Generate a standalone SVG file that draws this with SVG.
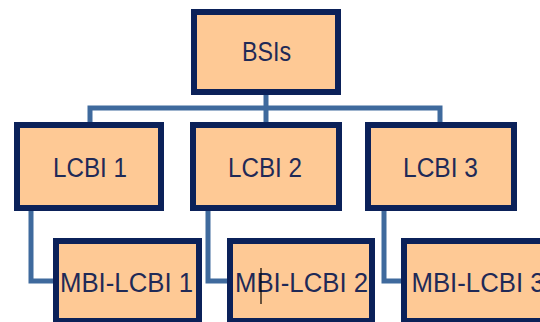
<svg xmlns="http://www.w3.org/2000/svg" width="540" height="322" viewBox="0 0 540 322">
<style>
.box{fill:#fec995;stroke:#0b2159;stroke-width:6;stroke-linejoin:miter}
.lbl{font-family:"Liberation Sans",Arial,sans-serif;font-size:27px;fill:#1f2a57}
.conn{fill:none;stroke:#3f6a9d;stroke-width:5;stroke-linejoin:miter;stroke-linecap:butt}
</style>
<rect width="540" height="322" fill="#ffffff"/>
<g id="connectors">
<path class="conn" d="M266 95 V122"/>
<path class="conn" d="M90 122 V108 H440 V122"/>
<path class="conn" d="M31 211 V281 H54"/>
<path class="conn" d="M208 211 V281 H228"/>
<path class="conn" d="M384 211 V281 H402"/>
</g>
<g id="bsis">
<rect class="box" x="194" y="12" width="144" height="80"/>
<text class="lbl" x="242" y="61" textLength="49" lengthAdjust="spacingAndGlyphs">BSIs</text>
</g>
<g id="lcbi1">
<rect class="box" x="17" y="125" width="144" height="83"/>
<text class="lbl" x="53" y="177" textLength="74" lengthAdjust="spacingAndGlyphs">LCBI 1</text>
</g>
<g id="lcbi2">
<rect class="box" x="193" y="125" width="146" height="83"/>
<text class="lbl" x="228" y="177" textLength="74" lengthAdjust="spacingAndGlyphs">LCBI 2</text>
</g>
<g id="lcbi3">
<rect class="box" x="368" y="125" width="146" height="83"/>
<text class="lbl" x="403" y="177" textLength="75" lengthAdjust="spacingAndGlyphs">LCBI 3</text>
</g>
<g id="mbi1">
<rect class="box" x="56" y="241" width="143" height="80"/>
<text class="lbl" x="60" y="291.5" textLength="133" lengthAdjust="spacingAndGlyphs">MBI-LCBI 1</text>
</g>
<g id="mbi2">
<rect class="box" x="230" y="241" width="142" height="80"/>
<text class="lbl" x="235" y="291.5" textLength="133" lengthAdjust="spacingAndGlyphs">MBI-LCBI 2</text>
<line x1="261" y1="268" x2="261" y2="304" stroke="#000000" stroke-width="1.2"/>
</g>
<g id="mbi3">
<rect class="box" x="404" y="241" width="146" height="80"/>
<text class="lbl" x="411.5" y="291.5" textLength="133" lengthAdjust="spacingAndGlyphs">MBI-LCBI 3</text>
</g>
</svg>
